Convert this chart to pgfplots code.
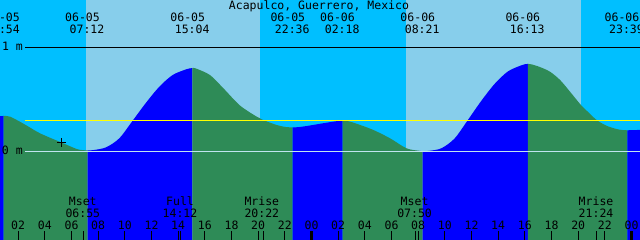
\documentclass[border=0pt]{standalone}
\usepackage{fontspec}
\setmainfont{DejaVu Sans Mono}
\usepackage{pgfplots}
\pgfplotsset{compat=1.18}
\definecolor{nightsky}{HTML}{00BFFF}
\definecolor{daysky}{HTML}{87CEEB}
\definecolor{flood}{HTML}{0000FF}
\definecolor{ebb}{HTML}{2E8B57}
\definecolor{msl}{HTML}{FFFF00}
\definecolor{datum}{HTML}{C0E4F0}
\tikzset{lbl/.style={font=\fontsize{11.5bp}{12bp}\selectfont, inner sep=0pt, anchor=base, text=black}}
\begin{document}
\begin{tikzpicture}
\begin{axis}[
  scale only axis, width=640bp, height=240bp,
  xmin=0.6375, xmax=48.6375, ymin=-0.853, ymax=1.455,
  axis on top=true,
  axis background/.style={fill=nightsky},
  axis line style={draw=none},
  ytick=\empty,
  xtick={2,4,...,22,26,28,...,46},
  xticklabels={02,04,06,08,10,12,14,16,18,20,22,02,04,06,08,10,12,14,16,18,20,22},
  extra x ticks={24,48}, extra x tick labels={00,00},
  extra x tick style={major tick style={line width=3bp,black}},
  tick align=inside, xtick pos=left, major tick length=9bp,
  major tick style={black, line width=1bp},
  xticklabel style={font=\fontsize{11.5bp}{12bp}\selectfont, anchor=base, inner sep=0pt, yshift=10.7bp},
]
% daylight
\addplot[draw=none, fill=daysky] coordinates {(7.09,-1) (7.09,2) (20.14,2) (20.14,-1)} -- cycle;
\addplot[draw=none, fill=daysky] coordinates {(31.09,-1) (31.09,2) (44.21,2) (44.21,-1)} -- cycle;
% tide: rising (flood) and falling (ebb)
\addplot[draw=none, fill=flood] coordinates {(0.6375,0.337) (0.9,0.340)} -- (axis cs:0.9,-1) -- (axis cs:0.6375,-1) -- cycle;
\addplot[draw=none, fill=ebb, smooth] coordinates {(0.9,0.340) (1.4,0.333) (2.5,0.258) (3.64,0.173) (5.27,0.083) (6.39,0.022) (6.8,0.012) (7.2,0.008)} -- (axis cs:7.2,-1) -- (axis cs:0.9,-1) -- cycle;
\addplot[draw=none, fill=flood, smooth] coordinates {(7.2,0.008) (7.6,0.011) (8.59,0.038) (9.585,0.125) (10.59,0.295) (11.59,0.467) (12.585,0.621) (13.59,0.734) (14.59,0.788) (14.85,0.797) (15.067,0.800)} -- (axis cs:15.067,-1) -- (axis cs:7.2,-1) -- cycle;
\addplot[draw=none, fill=ebb, smooth] coordinates {(15.067,0.800) (15.3,0.798) (16.39,0.733) (17.39,0.606) (18.64,0.440) (19.89,0.333) (20.39,0.300) (21.39,0.253) (22.1,0.233) (22.59,0.230)} -- (axis cs:22.59,-1) -- (axis cs:15.067,-1) -- cycle;
\addplot[draw=none, fill=flood, smooth] coordinates {(22.59,0.230) (23.0,0.232) (23.64,0.243) (24.89,0.270) (25.9,0.290) (26.34,0.295)} -- (axis cs:26.34,-1) -- (axis cs:22.59,-1) -- cycle;
\addplot[draw=none, fill=ebb, smooth] coordinates {(26.34,0.295) (26.7,0.291) (27.39,0.265) (28.64,0.205) (29.89,0.125) (31.14,0.028) (32.14,0.004) (32.34,0.000)} -- (axis cs:32.34,-1) -- (axis cs:26.34,-1) -- cycle;
\addplot[draw=none, fill=flood, smooth] coordinates {(32.34,0.000) (32.8,0.004) (33.74,0.029) (34.73,0.123) (35.74,0.303) (36.74,0.486) (37.74,0.649) (38.74,0.769) (39.74,0.827) (40.0,0.837) (40.22,0.840)} -- (axis cs:40.22,-1) -- (axis cs:32.34,-1) -- cycle;
\addplot[draw=none, fill=ebb, smooth] coordinates {(40.22,0.840) (40.5,0.836) (41.14,0.810) (41.89,0.765) (42.64,0.686) (43.39,0.573) (44.21,0.445) (44.89,0.360) (45.39,0.300) (46.14,0.245) (46.89,0.214) (47.3,0.205) (47.69,0.202)} -- (axis cs:47.69,-1) -- (axis cs:40.22,-1) -- cycle;
\addplot[draw=none, fill=flood] coordinates {(47.69,0.202) (48.7,0.206)} -- (axis cs:48.7,-1) -- (axis cs:47.69,-1) -- cycle;
% reference lines
\addplot[datum, line width=1bp] coordinates {(2.5125,0) (49,0)};
\addplot[msl, line width=1bp] coordinates {(2.5125,0.298) (49,0.298)};
\addplot[black, line width=1bp] coordinates {(2.5125,1) (49,1)};
\addplot[only marks, mark=+, mark size=4.5bp, black, line width=1bp] coordinates {(5.265,0.083)};
% moon event ticks
\draw[black, line width=1bp] (axis cs:6.917,-0.853) -- (axis cs:6.917,-0.7665);
\draw[black, line width=1bp] (axis cs:14.2,-0.853) -- (axis cs:14.2,-0.7665);
\draw[black, line width=1bp] (axis cs:20.367,-0.853) -- (axis cs:20.367,-0.7665);
\draw[black, line width=1bp] (axis cs:31.833,-0.853) -- (axis cs:31.833,-0.7665);
\draw[black, line width=1bp] (axis cs:45.4,-0.853) -- (axis cs:45.4,-0.7665);
% title
\node[lbl] at (rel axis cs:0.4984,0.9604) {Acapulco, Guerrero, Mexico};
% tide event labels (date / time)
\node[lbl] at (rel axis cs:0.0039,0.9096) {06-05};
\node[lbl] at (rel axis cs:0.0039,0.8613) {00:54};
\node[lbl] at (rel axis cs:0.1289,0.9096) {06-05};
\node[lbl] at (rel axis cs:0.1359,0.8613) {07:12};
\node[lbl] at (rel axis cs:0.2934,0.9096) {06-05};
\node[lbl] at (rel axis cs:0.3003,0.8613) {15:04};
\node[lbl] at (rel axis cs:0.4497,0.9096) {06-05};
\node[lbl] at (rel axis cs:0.4566,0.8613) {22:36};
\node[lbl] at (rel axis cs:0.5273,0.9096) {06-06};
\node[lbl] at (rel axis cs:0.5347,0.8613) {02:18};
\node[lbl] at (rel axis cs:0.6528,0.9096) {06-06};
\node[lbl] at (rel axis cs:0.6597,0.8613) {08:21};
\node[lbl] at (rel axis cs:0.8169,0.9096) {06-06};
\node[lbl] at (rel axis cs:0.8238,0.8613) {16:13};
\node[lbl] at (rel axis cs:0.9719,0.9096) {06-06};
\node[lbl] at (rel axis cs:0.9789,0.8613) {23:39};
% level labels
\node[lbl, anchor=base west] at (rel axis cs:0.003,0.7888) {1 m};
\node[lbl, anchor=base west] at (rel axis cs:0.0027,0.3542) {0 m};
% moon labels
\node[lbl] at (rel axis cs:0.1294,0.1417) {Mset};
\node[lbl] at (rel axis cs:0.1294,0.0929) {06:55};
\node[lbl] at (rel axis cs:0.2813,0.1417) {Full};
\node[lbl] at (rel axis cs:0.2813,0.0929) {14:12};
\node[lbl] at (rel axis cs:0.4091,0.1417) {Mrise};
\node[lbl] at (rel axis cs:0.4091,0.0929) {20:22};
\node[lbl] at (rel axis cs:0.6478,0.1417) {Mset};
\node[lbl] at (rel axis cs:0.6478,0.0929) {07:50};
\node[lbl] at (rel axis cs:0.9313,0.1417) {Mrise};
\node[lbl] at (rel axis cs:0.9313,0.0929) {21:24};
\end{axis}
\pgfresetboundingbox
\useasboundingbox (current axis.south west) rectangle (current axis.north east);
\end{tikzpicture}
\end{document}
